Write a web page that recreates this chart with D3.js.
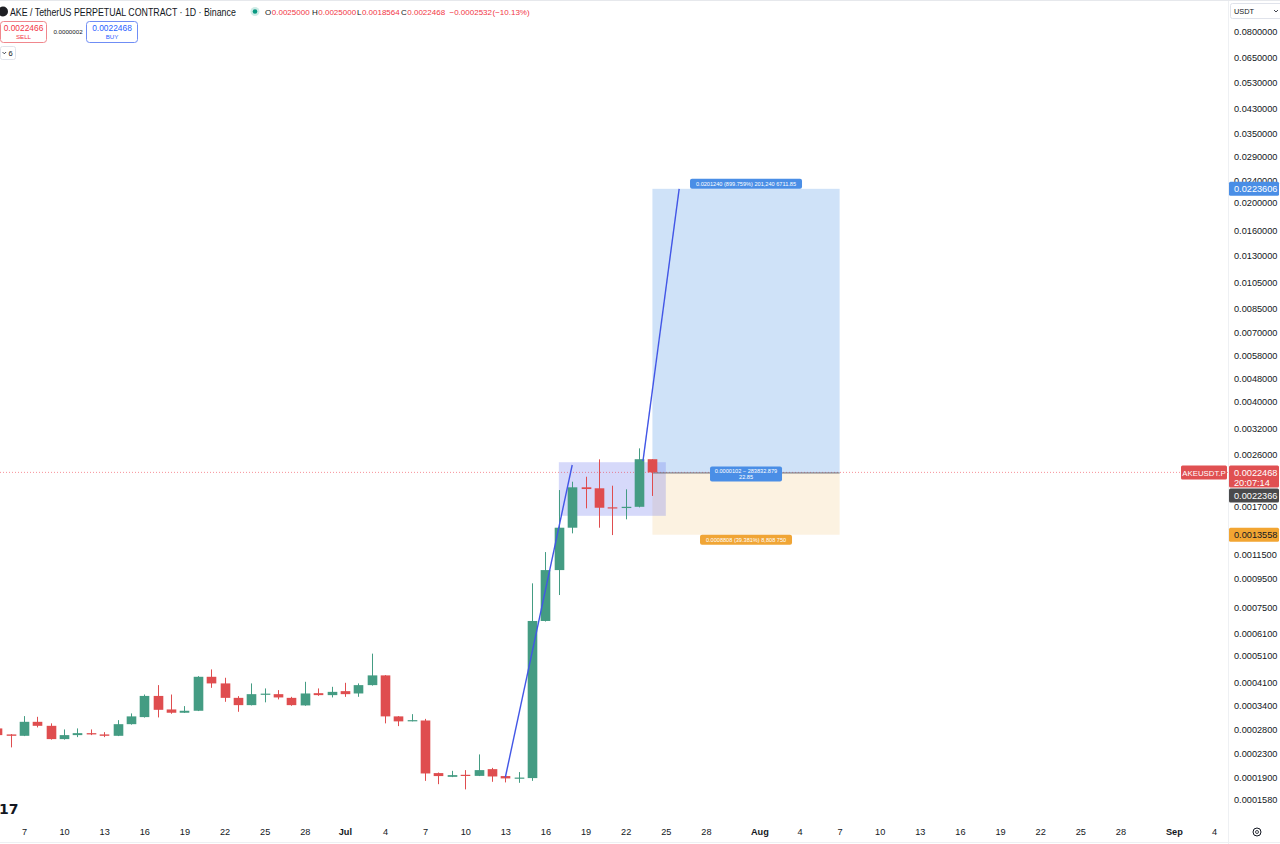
<!DOCTYPE html>
<html>
<head>
<meta charset="utf-8">
<script src="https://cdn.jsdelivr.net/npm/d3@7"></script>
<style>
  body { margin: 0; background: #fff; }
  svg { display: block; font-family: "Liberation Sans", Arial, sans-serif; }
</style>
</head>
<body>
<svg id="chart" width="1280" height="844"></svg>
<script>
// daily candles, AKEUSDT.P
const dates = ["2025-06-05","2025-06-06","2025-06-07","2025-06-08","2025-06-09","2025-06-10","2025-06-11","2025-06-12","2025-06-13","2025-06-14",
  "2025-06-15","2025-06-16","2025-06-17","2025-06-18","2025-06-19","2025-06-20","2025-06-21","2025-06-22","2025-06-23","2025-06-24",
  "2025-06-25","2025-06-26","2025-06-27","2025-06-28","2025-06-29","2025-06-30","2025-07-01","2025-07-02","2025-07-03","2025-07-04",
  "2025-07-05","2025-07-06","2025-07-07","2025-07-08","2025-07-09","2025-07-10","2025-07-11","2025-07-12","2025-07-13","2025-07-14",
  "2025-07-15","2025-07-16","2025-07-17","2025-07-18","2025-07-19","2025-07-20","2025-07-21","2025-07-22","2025-07-23","2025-07-24"];
const opens = [0.0002822,0.0002688,0.0002658,0.0002977,0.0002882,0.0002588,0.0002673,0.0002716,0.0002688,0.0002658,
  0.0002921,0.0003093,0.0003672,0.0003291,0.0003204,0.0003256,0.0004288,0.0004064,0.0003615,0.0003408,
  0.0003725,0.0003725,0.0003615,0.00034,0.0003755,0.0003696,0.0003817,0.0003746,0.0004008,0.0004337,
  0.0003111,0.0002998,0.0003009,0.0001965,0.0001906,0.0001938,0.0001921,0.0002029,0.0001918,0.0001887,
  0.0001887,0.000674,0.001018,0.001435,0.001991,0.001975,0.001693,0.001683,0.0017,0.0025];
const highs = [0.0002875,0.0002695,0.0003118,0.00031,0.000294,0.0002799,0.0002822,0.0002799,0.0002738,0.0003018,
  0.0003187,0.0003714,0.0004008,0.0003714,0.0003381,0.000431,0.0004552,0.0004254,0.0003666,0.0004064,
  0.0003902,0.0003849,0.0003645,0.0004117,0.0003902,0.0003953,0.0004084,0.0004064,0.0005173,0.0004347,
  0.0003118,0.0003168,0.0003049,0.0001974,0.0002001,0.0002013,0.0002286,0.000205,0.0001925,0.0001981,
  0.0009144,0.001178,0.001947,0.002083,0.002169,0.002497,0.002017,0.001959,0.00273,0.0025];
const lows = [0.000263,0.000242,0.0002652,0.0002845,0.0002577,0.0002577,0.000263,0.0002673,0.000263,0.0002652,
  0.000291,0.0003081,0.0003085,0.0003178,0.0003199,0.0003248,0.0003921,0.0003501,0.0003229,0.00034,
  0.0003486,0.000357,0.000339,0.000339,0.0003675,0.0003627,0.0003645,0.0003645,0.0003992,0.000294,
  0.0002875,0.0002988,0.0001845,0.0001796,0.0001902,0.0001722,0.0001918,0.0001831,0.0001822,0.0001816,
  0.0001845,0.000671,0.0008316,0.001371,0.001679,0.001435,0.001352,0.001536,0.001692,0.0018564];
const closes = [0.0002673,0.0002658,0.0002977,0.0002882,0.0002588,0.0002673,0.0002716,0.0002688,0.0002658,0.0002921,
  0.0003111,0.0003672,0.0003281,0.0003204,0.0003256,0.0004288,0.0004064,0.0003615,0.0003408,0.0003725,
  0.0003741,0.0003627,0.0003408,0.0003746,0.0003696,0.0003795,0.0003725,0.0004008,0.0004337,0.0003111,
  0.0002988,0.0003018,0.0001959,0.0001918,0.0001933,0.0001928,0.0002013,0.0001912,0.0001882,0.0001895,
  0.000674,0.001018,0.001435,0.001991,0.001963,0.001687,0.001683,0.0017,0.0025,0.0022468];

const yTicks = [0.08,0.065,0.053,0.043,0.035,0.029,0.024,0.02,0.016,0.013,0.0105,0.0085,0.007,0.0058,0.0048,0.004,
  0.0032,0.0026,0.0017,0.00115,0.00095,0.00075,0.00061,0.00051,0.00041,0.00034,0.00028,0.00023,0.00019,0.000158];
const xTickDates = ["2025-06-07","2025-06-10","2025-06-13","2025-06-16","2025-06-19","2025-06-22","2025-06-25","2025-06-28",
  "2025-07-01","2025-07-04","2025-07-07","2025-07-10","2025-07-13","2025-07-16","2025-07-19","2025-07-22","2025-07-25","2025-07-28",
  "2025-08-01","2025-08-04","2025-08-07","2025-08-10","2025-08-13","2025-08-16","2025-08-19","2025-08-22","2025-08-25","2025-08-28",
  "2025-09-01","2025-09-04"];

// drawings
const trendA = [["2025-07-13T00:00", 0.00019], ["2025-07-18T00:00", 0.002385]];
const trendB = [["2025-07-23T07:00", 0.00246], ["2025-07-26T00:00", 0.0223606]];
const rangeBox = { from: "2025-07-17T00:00", to: "2025-07-25T00:00", low: 0.00158, high: 0.00244 };
const position = { from: "2025-07-24T00:00", to: "2025-08-07T00:00", entry: 0.0022366, target: 0.0223606, stop: 0.0013558 };
const lastPrice = 0.0022468;

const parse = d3.utcParse("%Y-%m-%d");
const parseT = d3.utcParse("%Y-%m-%dT%H:%M");
const candles = dates.map((d, i) => ({ date: parse(d), o: opens[i], h: highs[i], l: lows[i], c: closes[i] }));

const W = 1280, H = 844, plotRight = 1228, plotBottom = 820;
const UP = "#449c83", DOWN = "#df4d4f";

const svg = d3.select("#chart");
const x = d3.scaleUtc().domain([parse("2025-06-07"), parse("2025-09-04")]).range([24, 1214]);
const y = d3.scaleLog().domain([0.000158, 0.08]).range([800, 31.5]);
const step = x(parse("2025-06-08")) - x(parse("2025-06-07"));
const bw = step * 0.72;

svg.append("defs").append("clipPath").attr("id", "plot")
  .append("rect").attr("x", 0).attr("y", 0).attr("width", plotRight).attr("height", plotBottom);

const plot = svg.append("g").attr("clip-path", "url(#plot)");

// position tool areas
const px0 = x(parseT(position.from)), px1 = x(parseT(position.to));
plot.append("rect").attr("x", px0).attr("width", px1 - px0)
  .attr("y", y(position.target)).attr("height", y(position.entry) - y(position.target)).attr("fill", "#cfe2f8");
plot.append("rect").attr("x", px0).attr("width", px1 - px0)
  .attr("y", y(position.entry)).attr("height", y(position.stop) - y(position.entry)).attr("fill", "#fcf2e1");

// range box
plot.append("rect")
  .attr("x", x(parseT(rangeBox.from))).attr("width", x(parseT(rangeBox.to)) - x(parseT(rangeBox.from)))
  .attr("y", y(rangeBox.high)).attr("height", y(rangeBox.low) - y(rangeBox.high))
  .attr("fill", "rgba(104,116,236,0.27)");

// last price dotted line
plot.append("line").attr("x1", 0).attr("x2", plotRight).attr("y1", y(lastPrice)).attr("y2", y(lastPrice))
  .attr("stroke", "#f23645").attr("stroke-opacity", 0.55).attr("stroke-dasharray", "1,2");
plot.append("line").attr("x1", px0).attr("x2", px1).attr("y1", y(position.entry)).attr("y2", y(position.entry))
  .attr("stroke", "#6b6e78").attr("stroke-width", 1);

// candles
const cg = plot.selectAll("g.candle").data(candles).join("g").attr("class", "candle");
cg.append("line")
  .attr("x1", d => Math.round(x(d.date)) + 0.5).attr("x2", d => Math.round(x(d.date)) + 0.5)
  .attr("y1", d => y(d.h)).attr("y2", d => y(d.l))
  .attr("stroke", d => d.c >= d.o ? UP : DOWN);
cg.append("rect")
  .attr("x", d => Math.round(x(d.date)) + 0.5 - bw / 2).attr("width", bw)
  .attr("y", d => y(Math.max(d.o, d.c)))
  .attr("height", d => Math.max(1.2, Math.abs(y(d.o) - y(d.c))))
  .attr("fill", d => d.c >= d.o ? UP : DOWN);

// trend lines
const lineGen = d3.line().x(d => x(parseT(d[0]))).y(d => y(d[1]));
[trendA, trendB].forEach(t => plot.append("path").attr("d", lineGen(t))
  .attr("fill", "none").attr("stroke", "#4256e6").attr("stroke-width", 1.4));

// position labels
function pill(cx, cy, w, h, fill, lines, fs) {
  const g = svg.append("g");
  g.append("rect").attr("x", cx - w / 2).attr("y", cy - h / 2).attr("width", w).attr("height", h).attr("rx", 2).attr("fill", fill);
  lines.forEach((t, i) => g.append("text").attr("x", cx).attr("y", cy - (lines.length - 1) * (fs + 1) / 2 + i * (fs + 1) + fs * 0.36)
    .attr("text-anchor", "middle").attr("font-size", fs).attr("fill", "#fff").text(t));
}
const pcx = (px0 + px1) / 2;
pill(pcx, y(position.target) - 5, 112, 10, "#4a8ee6", ["0.0201240 (899.759%) 201,240 6711.85"], 5.6);
pill(pcx, y(position.entry) + 1, 72, 15, "#4a8ee6", ["0.0000102 − 283832.879", "22.85"], 5.6);
pill(pcx, y(position.stop) + 5, 92, 10, "#f0a535", ["0.0008808 (39.381%) 8,808 750"], 5.6);

// borders
svg.append("line").attr("x1", plotRight + 0.5).attr("x2", plotRight + 0.5).attr("y1", 0).attr("y2", H).attr("stroke", "#eef0f3");
svg.append("line").attr("x1", 0).attr("x2", W).attr("y1", 0.5).attr("y2", 0.5).attr("stroke", "#e6e8ec");
svg.append("line").attr("x1", 0).attr("x2", W).attr("y1", H - 1.5).attr("y2", H - 1.5).attr("stroke", "#eef0f3");

// y axis
const yAxis = svg.append("g").attr("transform", `translate(${plotRight + 6},0)`)
  .call(d3.axisRight(y).tickValues(yTicks).tickFormat(d3.format(".7f")).tickSize(0).tickPadding(0));
yAxis.select(".domain").remove();
yAxis.selectAll("text").attr("font-size", 9.2).attr("fill", "#131722").attr("font-family", "Liberation Sans, Arial");

// x axis
const fmtX = d => d.getUTCDate() === 1 ? d3.utcFormat("%b")(d) : String(d.getUTCDate());
const xAxis = svg.append("g").attr("transform", `translate(0,${plotBottom + 8})`)
  .call(d3.axisBottom(x).tickValues(xTickDates.map(parse)).tickFormat(fmtX).tickSize(0).tickPadding(0));
xAxis.select(".domain").remove();
xAxis.selectAll("text").attr("font-size", 9.2).attr("fill", "#131722").attr("font-family", "Liberation Sans, Arial")
  .attr("font-weight", d => d.getUTCDate() === 1 ? "bold" : null);

// price axis labels
function axisTag(yc, h, fill, txt, color, sub) {
  svg.append("rect").attr("x", plotRight + 1).attr("y", yc - 7).attr("width", 50).attr("height", h).attr("rx", 1.5).attr("fill", fill);
  svg.append("text").attr("x", plotRight + 6).attr("y", yc + 3.2).attr("font-size", 9.2).attr("fill", color).text(txt);
  if (sub) svg.append("text").attr("x", plotRight + 6).attr("y", yc + 13.5).attr("font-size", 9.2).attr("fill", color).text(sub);
}
axisTag(y(position.target), 14, "#4a8ee6", "0.0223606", "#fff");
axisTag(y(lastPrice), 22, "#e05052", "0.0022468", "#fff", "20:07:14");
axisTag(y(lastPrice) + 23, 14, "#4a4a4c", "0.0022366", "#fff");
axisTag(y(position.stop), 14, "#f2a532", "0.0013558", "#131722");
svg.append("rect").attr("x", 1181).attr("y", y(lastPrice) - 7).attr("width", 46).attr("height", 14).attr("rx", 1.5).attr("fill", "#e05052");
svg.append("text").attr("x", 1204).attr("y", y(lastPrice) + 3.2).attr("text-anchor", "middle").attr("font-size", 7.8)
  .attr("fill", "#fff").text("AKEUSDT.P");

// currency selector
svg.append("rect").attr("x", 1230.5).attr("y", 3.5).attr("width", 52).attr("height", 15).attr("rx", 2).attr("fill", "#fff").attr("stroke", "#e0e3eb");
svg.append("text").attr("x", 1234).attr("y", 14).attr("font-size", 7.4).attr("fill", "#131722").text("USDT");
svg.append("path").attr("d", "M1274,10 l2,2 l2,-2").attr("fill", "none").attr("stroke", "#131722").attr("stroke-width", 0.8);

// settings icon
svg.append("circle").attr("cx", 1257).attr("cy", 832).attr("r", 4).attr("fill", "none").attr("stroke", "#131722").attr("stroke-width", 1);
svg.append("circle").attr("cx", 1257).attr("cy", 832).attr("r", 1.5).attr("fill", "none").attr("stroke", "#131722").attr("stroke-width", 0.8);

// header
svg.append("circle").attr("cx", 3).attr("cy", 11.5).attr("r", 5).attr("fill", "#1e1f24");
const title = svg.append("text").attr("x", 0).attr("y", 0).attr("font-size", 11.5).attr("fill", "#131722")
  .text("AKE / TetherUS PERPETUAL CONTRACT · 1D · Binance");
const sx = 226 / title.node().getComputedTextLength();
title.attr("transform", `translate(10,15.5) scale(${Math.min(1, sx)},1)`);
svg.append("circle").attr("cx", 255).attr("cy", 11.5).attr("r", 4.5).attr("fill", "#089981").attr("fill-opacity", 0.2);
svg.append("circle").attr("cx", 255).attr("cy", 11.5).attr("r", 2.3).attr("fill", "#089981");
// O H L C: letter and value as separate texts
const ohlcParts = [
  { x: 265, t: "O", c: "#131722" }, { x: 271.8, t: "0.0025000", c: "#f23645" },
  { x: 312, t: "H", c: "#131722" }, { x: 318.3, t: "0.0025000", c: "#f23645" },
  { x: 357, t: "L", c: "#131722" }, { x: 361.9, t: "0.0018564", c: "#f23645" },
  { x: 401, t: "C", c: "#131722" }, { x: 407.3, t: "0.0022468", c: "#f23645" },
  { x: 449.5, t: "−0.0002532", c: "#f23645" }, { x: 492.5, t: "(−10.13%)", c: "#f23645" }
];
svg.selectAll("text.ohlc").data(ohlcParts).join("text").attr("class", "ohlc")
  .attr("x", d => d.x).attr("y", 14.5).attr("font-size", 8).attr("fill", d => d.c).text(d => d.t);

// sell / buy
svg.append("rect").attr("x", 0.5).attr("y", 21.5).attr("width", 46).attr("height", 21).attr("rx", 3).attr("fill", "#fff").attr("stroke", "#f0878d");
svg.append("text").attr("x", 23.5).attr("y", 30.5).attr("text-anchor", "middle").attr("font-size", 8.4).attr("fill", "#f23645").text("0.0022466");
svg.append("text").attr("x", 23.5).attr("y", 39).attr("text-anchor", "middle").attr("font-size", 6.2).attr("fill", "#f23645").text("SELL");
svg.append("text").attr("x", 68).attr("y", 34).attr("text-anchor", "middle").attr("font-size", 6.2).attr("fill", "#131722").text("0.0000002");
svg.append("rect").attr("x", 86.5).attr("y", 21.5).attr("width", 51).attr("height", 21).attr("rx", 3).attr("fill", "#fff").attr("stroke", "#6f8df5");
svg.append("text").attr("x", 112).attr("y", 30.5).attr("text-anchor", "middle").attr("font-size", 8.4).attr("fill", "#2962ff").text("0.0022468");
svg.append("text").attr("x", 112).attr("y", 39).attr("text-anchor", "middle").attr("font-size", 6.2).attr("fill", "#2962ff").text("BUY");
svg.append("rect").attr("x", 0.5).attr("y", 46.5).attr("width", 15).attr("height", 13).attr("rx", 2).attr("fill", "#fff").attr("stroke", "#e0e3eb");
svg.append("path").attr("d", "M2.5,52 l1.8,1.8 l1.8,-1.8").attr("fill", "none").attr("stroke", "#131722").attr("stroke-width", 0.8);
svg.append("text").attr("x", 8.5).attr("y", 56).attr("font-size", 7.5).attr("fill", "#131722").text("6");

// logo
svg.append("text").attr("x", -1).attr("y", 814).attr("font-size", 14).attr("font-weight", "bold").attr("fill", "#131722")
  .attr("font-family", "DejaVu Sans").text("17");
</script>
</body>
</html>
